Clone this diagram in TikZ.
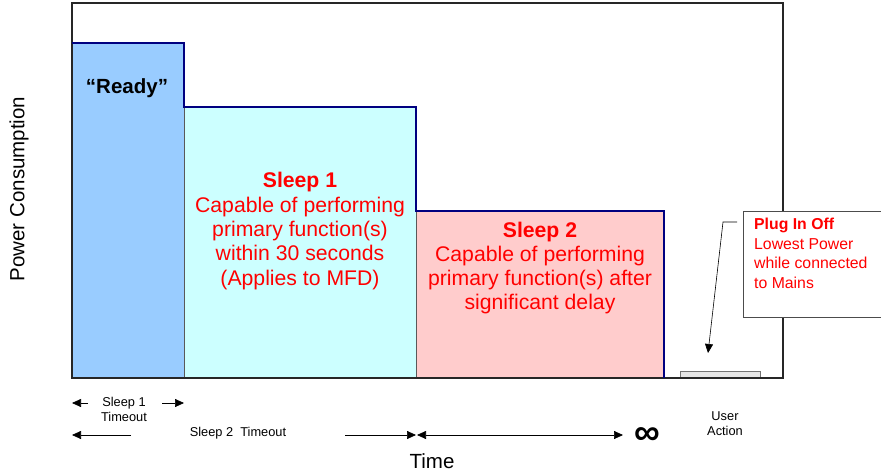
\documentclass[tikz,border=0pt]{standalone}
\usepackage{fontspec}
\setmainfont{Liberation Sans}
\usetikzlibrary{arrows.meta}
\definecolor{readyfill}{HTML}{99CCFF}
\definecolor{sonefill}{HTML}{CCFFFF}
\definecolor{stwofill}{HTML}{FFCCCC}
\definecolor{stepnavy}{HTML}{000080}
\definecolor{redtxt}{HTML}{FF0000}
\definecolor{framegray}{HTML}{262626}
\tikzset{
  redtext/.style={text=redtxt, align=center, font=\fontsize{21.2}{24.3}\selectfont, inner sep=0pt},
  smalltext/.style={align=center, font=\fontsize{12.8}{15}\selectfont, inner sep=0pt},
  tip/.style={-{Triangle[length=9pt,width=8pt]}, line width=0.7pt},
  stepline/.style={stepnavy, line width=2.8pt, line join=miter},
  sepline/.style={draw=black!65, line width=0.8pt},
}
\begin{document}
\begin{tikzpicture}[x=1pt,y=-1pt]
\useasboundingbox (0,0) rectangle (881,473);
% fills
\fill[readyfill] (72,43) rectangle (184,378);
\fill[sonefill] (184,107) rectangle (416,378);
\fill[stwofill] (416,211) rectangle (664,378);
\draw[sepline] (184,107) -- (184,378);
\draw[sepline] (416,211) -- (416,378);
% plug-in-off level
\draw[draw=black!55, fill=black!10, line width=0.8pt] (680,371) rectangle (760,378);
% frame
\draw[framegray, line width=1.6pt] (72,3) rectangle (783,378);
% step outline
\draw[stepline] (72,43) -- (184,43) -- (184,107) -- (416,107) -- (416,211) -- (664,211) -- (664,378);
% callout box
\fill[white] (743,211) rectangle (884,317);
\draw[draw=black!70, line width=0.8pt] (884,211) -- (743,211) -- (743,317) -- (884,317);
\node[anchor=north west, text=redtxt, align=left, inner sep=0pt,
      font=\fontsize{15.8}{19.5}\selectfont] (plug) at (754,218)
  {\textbf{Plug In Off}\\Lowest Power\\while connected\\to Mains};
\coordinate (cstart) at (737,222);
\coordinate (cbend) at (723,222);
\coordinate (ctip) at (708,353);
\draw[tip, line width=0.6pt] (cstart) -- (cbend) -- (ctip);
% region labels
\node[font=\bfseries\fontsize{20.5}{24}\selectfont, inner sep=0pt] (ready) at (127,88) {“Ready”};
\node[redtext] (sone) at (300,231)
  {\textbf{Sleep 1}\\Capable of performing\\primary function(s)\\within 30 seconds\\(Applies to MFD)};
\node[redtext] (stwo) at (540,268)
  {\textbf{Sleep 2}\\Capable of performing\\primary function(s) after\\significant delay};
% axis labels
\node[rotate=90, font=\fontsize{20.5}{24}\selectfont, inner sep=0pt] (ylab) at (19,189) {Power Consumption};
\node[font=\fontsize{20.5}{24}\selectfont, inner sep=0pt] (xlab) at (432,461) {Time};
% timeouts
\node[smalltext] (sonet) at (124,409) {Sleep 1\\Timeout};
\coordinate (a1s) at (88,403); \coordinate (a1e) at (72,403);
\coordinate (a2s) at (162,403); \coordinate (a2e) at (184,403);
\draw[tip] (a1s) -- (a1e);
\draw[tip] (a2s) -- (a2e);
\node[smalltext] (stwot) at (238,433) {Sleep 2\ \ Timeout};
\coordinate (b1s) at (131,435); \coordinate (b1e) at (72,435);
\coordinate (b2s) at (345,435); \coordinate (b2e) at (416,435);
\coordinate (b3s) at (417,435); \coordinate (b3e) at (623,435);
\draw[tip] (b1s) -- (b1e);
\draw[tip] (b2s) -- (b2e);
\draw[{Triangle[length=9pt,width=8pt]}-{Triangle[length=9pt,width=8pt]}, line width=0.7pt] (b3s) -- (b3e);
\node[font=\bfseries\fontsize{36}{36}\selectfont, inner sep=0pt] (inf) at (647,436) {∞};
\node[smalltext] (user) at (725,424) {User\\Action};
\end{tikzpicture}
\end{document}
